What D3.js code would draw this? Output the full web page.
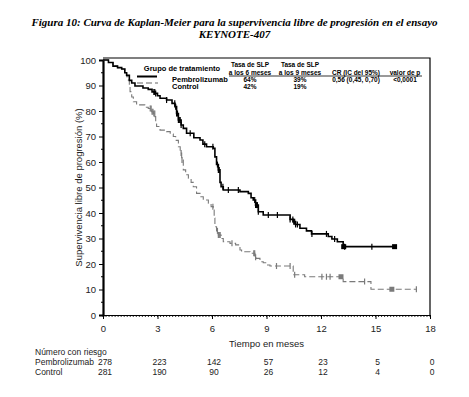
<!DOCTYPE html>
<html><head><meta charset="utf-8">
<script src="https://cdn.jsdelivr.net/npm/d3@7"></script>
<style>body{margin:0;background:#fff}svg{display:block}</style></head>
<body><svg id="c" width="469" height="397"></svg>
<script>
const titleLines = ["Figura 10: Curva de Kaplan-Meier para la supervivencia libre de progresión en el ensayo", "KEYNOTE-407"];
const xTicks = [0, 3, 6, 9, 12, 15, 18];
const yTicks = [0, 10, 20, 30, 40, 50, 60, 70, 80, 90, 100];
const seriesNames = ["Pembrolizumab", "Control"];
const pembroSteps = [[0,100],[0.3,99],[0.55,97.6],[0.8,97],[1.03,96.5],[1.2,95],[1.3,94],[1.45,92],[1.58,91],[1.76,89.8],[2.2,89],[2.49,88.5],[2.7,87.5],[2.86,86.9],[3.0,86],[3.14,85],[3.5,84.3],[3.8,83],[3.96,81.7],[4.05,79],[4.15,76.5],[4.3,74.5],[4.42,73.2],[4.6,71.3],[5.0,69.5],[5.34,68.6],[5.5,67],[5.7,66],[6.07,65.4],[6.16,62],[6.25,59],[6.35,56.9],[6.44,52],[6.5,50.3],[6.62,49],[7.54,48.4],[8.0,47.7],[8.15,46],[8.27,45.1],[8.4,43.1],[8.55,40.5],[8.82,39.2],[10.3,37.5],[10.47,36.6],[10.6,35.5],[10.84,34],[11.2,33],[11.48,31.8],[12.4,30.8],[12.6,29.8],[12.9,28.7],[13.22,26.8],[16.05,26.8]];
const controlSteps = [[0,100],[0.3,99],[0.55,97.6],[0.8,97],[1.03,96.5],[1.2,94.8],[1.3,93.5],[1.39,92.2],[1.45,90],[1.49,87.6],[1.58,85.5],[1.67,83.6],[1.85,82.4],[2.3,81.5],[2.49,81],[2.68,79.7],[2.77,79],[2.86,77.8],[2.9,75.5],[2.95,73.9],[3.14,72.5],[3.5,71.9],[3.7,71],[3.87,70],[4.0,68.5],[4.15,66],[4.25,63.5],[4.33,60.8],[4.42,56.9],[4.55,55],[4.7,53.6],[4.85,52],[4.97,50.3],[5.15,47.7],[5.34,46.4],[5.52,45.1],[5.8,43.8],[5.95,42.5],[6.07,41.2],[6.12,38],[6.16,34.6],[6.25,33],[6.35,31.4],[6.5,30],[6.62,28.7],[6.99,28.1],[7.3,27.5],[7.54,25.5],[7.63,24.8],[8.09,24.2],[8.36,22.6],[8.45,22.2],[8.64,20.9],[8.82,20.5],[9.0,19.6],[9.19,19.2],[10.47,15.8],[11.1,15.0],[13.22,13.1],[14.75,10.1],[17.26,10.1]];
const pembroCensor = [2.8,2.85,2.9,3.5,3.95,4.0,4.05,4.1,4.15,4.2,4.25,4.3,4.8,5.6,6.05,6.3,6.35,6.4,6.6,6.9,7.45,8.35,8.4,8.45,8.5,8.55,9.1,9.6,10.3,10.45,10.5,10.55,10.6,10.7,11.5,12.3,12.75,13.3,14.8];
const controlCensor = [2.6,2.65,2.7,2.75,2.8,2.85,4.3,4.35,6.05,6.3,6.35,6.4,6.45,7.1,8.3,8.35,8.4,9.55,10.3,10.55,12.05,12.3,12.5,14.4,17.25];
const pembroSquares = [13.25, 16.05];
const controlSquares = [13.1, 15.9];
const riskPembro = [278, 223, 142, 57, 23, 5, 0];
const riskControl = [281, 190, 90, 26, 12, 4, 0];
const tableCols = [["Tasa de SLP","a los 6 meses"],["Tasa de SLP","a los 9 meses"],["","CR (IC del 95%)"],["","valor de p"]];
const tablePembro = ["64%","39%","0,56 (0,45, 0,70)","<0,0001"];
const tableControl = ["42%","19%","",""];

const svg = d3.select("#c");
svg.append("rect").attr("width",469).attr("height",397).attr("fill","#fff");
const x = d3.scaleLinear().domain([0,18]).range([103,430]);
const y = d3.scaleLinear().domain([0,100]).range([315,60]);
const SANS = "Liberation Sans, Arial, sans-serif";

// title
svg.append("g").selectAll("text").data(titleLines).join("text")
  .attr("x",234.5).attr("y",(d,i)=>26+i*12).attr("text-anchor","middle")
  .attr("font-family","Liberation Serif, Times New Roman, serif").attr("font-weight","bold").attr("font-style","italic")
  .attr("font-size",11).text(d=>d);

// frame top/right
svg.append("path").attr("d",`M${x(0)},58H${x(18)}V${y(0)}`).attr("fill","none").attr("stroke","#000").attr("stroke-width",1.2);

// y axis
const yAxis = d3.axisLeft(y).tickValues(yTicks).tickSize(4).tickPadding(3);
const gy = svg.append("g").attr("transform",`translate(${x(0)},0)`).call(yAxis);
gy.select(".domain").attr("stroke-width",2.2);
gy.selectAll("text").attr("font-family",SANS).attr("font-size",9.5).attr("fill","#222");
svg.append("g").selectAll("line").data(d3.range(5,100,10)).join("line")
  .attr("x1",x(0)-2).attr("x2",x(0)).attr("y1",d=>y(d)).attr("y2",d=>y(d)).attr("stroke","#000");

// x axis
const xAxis = d3.axisBottom(x).tickValues(xTicks).tickSize(4).tickPadding(6);
const gx = svg.append("g").attr("transform",`translate(0,${y(0)})`).call(xAxis);
gx.selectAll("text").attr("font-family",SANS).attr("font-size",9.5).attr("fill","#222");
svg.append("g").selectAll("line").data(d3.range(0,18.01,1/6)).join("line")
  .attr("x1",d=>x(d)).attr("x2",d=>x(d)).attr("y1",y(0)).attr("y2",y(0)+2).attr("stroke","#000").attr("stroke-width",0.8);

svg.append("text").attr("x",(x(0)+x(18))/2).attr("y",347).attr("text-anchor","middle")
  .attr("font-family",SANS).attr("font-size",9.5).attr("fill","#222").text("Tiempo en meses");
svg.append("text").attr("transform",`translate(82,${(y(0)+y(100))/2}) rotate(-90)`).attr("text-anchor","middle")
  .attr("font-family",SANS).attr("font-size",9.5).attr("fill","#222").text("Supervivencia libre de progresión (%)");

// curves
const line = d3.line().x(d=>x(d[0])).y(d=>y(d[1])).curve(d3.curveStepAfter);
function valAt(steps,t){let v=steps[0][1];for(const s of steps){if(s[0]<=t)v=s[1];}return v;}
function drawSeries(steps,censor,squares,color,width,dash){
  const g = svg.append("g");
  g.append("path").datum(steps).attr("d",line).attr("fill","none").attr("stroke",color).attr("stroke-width",width).attr("stroke-dasharray",dash);
  g.selectAll("line.c").data(censor).join("line").attr("class","c")
    .attr("x1",d=>x(d)).attr("x2",d=>x(d)).attr("y1",d=>y(valAt(steps,d))-3).attr("y2",d=>y(valAt(steps,d))+3)
    .attr("stroke",color).attr("stroke-width",1.2);
  g.selectAll("rect").data(squares).join("rect")
    .attr("x",d=>x(d)-2.5).attr("y",d=>y(valAt(steps,d))-2.5).attr("width",5).attr("height",5).attr("fill",color);
}
drawSeries(controlSteps,controlCensor,controlSquares,"#7a7a7a",1.1,"6,3");
drawSeries(pembroSteps,pembroCensor,pembroSquares,"#000",1.6,null);

// legend
svg.append("text").attr("x",182).attr("y",71).attr("text-anchor","middle").attr("font-family",SANS).attr("font-weight","bold").attr("font-size",7.5).text("Grupo de tratamiento");
svg.append("line").attr("x1",137).attr("x2",157).attr("y1",76.5).attr("y2",76.5).attr("stroke","#000").attr("stroke-width",2);
svg.append("line").attr("x1",137).attr("x2",158).attr("y1",83).attr("y2",83).attr("stroke","#999").attr("stroke-width",1.5).attr("stroke-dasharray","6,3");
svg.selectAll("text.lg").data(seriesNames).join("text").attr("class","lg").attr("x",172).attr("y",(d,i)=>81.5+i*7.5)
  .attr("font-family",SANS).attr("font-weight","bold").attr("font-size",7.5).text(d=>d);

// table
const colX = [250,300,356,405];
const tg = svg.append("g").attr("font-family",SANS).attr("font-weight","bold").attr("font-size",6.5).attr("text-anchor","middle");
tableCols.forEach((c,i)=>{
  tg.append("text").attr("x",colX[i]).attr("y",67).text(c[0]);
  tg.append("text").attr("x",colX[i]).attr("y",74.5).text(c[1]);
  tg.append("text").attr("x",colX[i]).attr("y",81.5).text(tablePembro[i]);
  tg.append("text").attr("x",colX[i]).attr("y",89).text(tableControl[i]);
});
svg.append("line").attr("x1",229).attr("x2",422).attr("y1",76).attr("y2",76).attr("stroke","#000").attr("stroke-width",0.8);

// risk table
const rg = svg.append("g").attr("font-family",SANS).attr("font-size",8.5).attr("fill","#222");
rg.append("text").attr("x",35).attr("y",355).text("Número con riesgo");
rg.selectAll("text.rn").data(seriesNames).join("text").attr("class","rn").attr("x",35).attr("y",(d,i)=>365+i*10).text(d=>d);
rg.selectAll("text.rp").data(riskPembro).join("text").attr("class","rp").attr("x",(d,i)=>x(xTicks[i])+2).attr("y",365).attr("text-anchor","middle").text(d=>d);
rg.selectAll("text.rc").data(riskControl).join("text").attr("class","rc").attr("x",(d,i)=>x(xTicks[i])+2).attr("y",375).attr("text-anchor","middle").text(d=>d);
</script></body></html>
